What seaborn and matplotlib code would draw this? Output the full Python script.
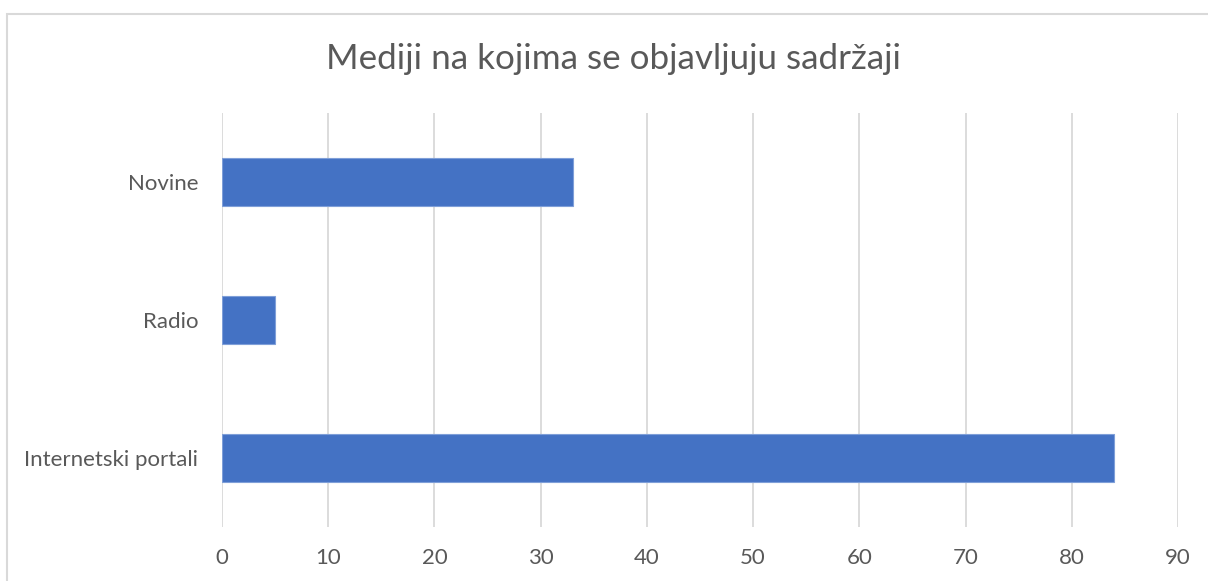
import matplotlib
matplotlib.use("Agg")
import matplotlib.pyplot as plt
import seaborn as sns
import pandas as pd
from matplotlib.patches import Rectangle

categories = ["Novine", "Radio", "Internetski portali"]
values = [33, 5, 84]
x_ticks = [0, 10, 20, 30, 40, 50, 60, 70, 80, 90]
title = "Mediji na kojima se objavljuju sadržaji"

sns.set_theme(style="white")
plt.rcParams['font.family'] = ['Lato', 'DejaVu Sans']

W, H = 1208, 581
fig = plt.figure(figsize=(W / 100, H / 100), dpi=100)
ax = fig.add_axes([222 / W, 1 - 527 / H, (1178 - 222) / W, (527 - 113) / H])

df = pd.DataFrame({"cat": categories, "val": values})
sns.barplot(data=df, x="val", y="cat", order=categories, orient="h",
            color="#4472C4", saturation=1, width=0.355,
            edgecolor="#7f9fd8", linewidth=0.8, ax=ax, zorder=3)

ax.set_xlim(0, 90)
ax.set_ylim(2.5, -0.5)
ax.set_xticks(x_ticks)
ax.set_xticklabels([str(t) for t in x_ticks])
ax.set_xlabel("")
ax.set_ylabel("")
for s in ax.spines.values():
    s.set_visible(False)
ax.xaxis.grid(True, color="#d9d9d9", linewidth=1.3, zorder=0)
ax.yaxis.grid(False)
ax.set_axisbelow(True)
ax.tick_params(axis="x", length=0, pad=15, labelsize=16, labelcolor="#595959")
ax.tick_params(axis="y", length=0, pad=17, labelsize=16, labelcolor="#595959")

fig.text(614 / W, 1 - 59 / H, title, ha="center", va="center",
         fontsize=25.2, color="#595959")

fig.patches.append(Rectangle((7 / W, -0.1), 1.2, (H - 14) / H + 0.1,
                             transform=fig.transFigure, fill=False,
                             edgecolor="#d9d9d9", linewidth=1.5))

fig.savefig("out.png", dpi=100)
